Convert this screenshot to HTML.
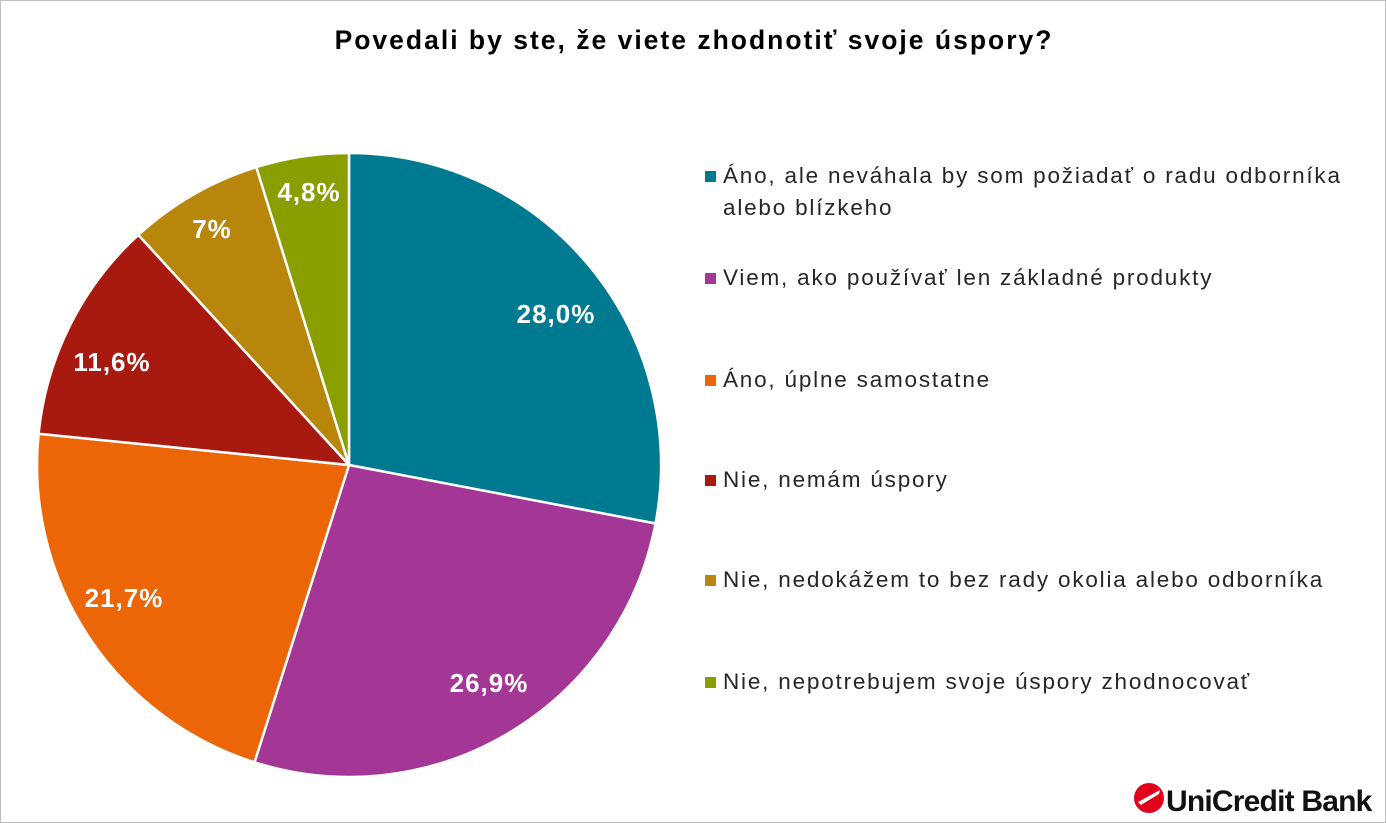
<!DOCTYPE html>
<html><head><meta charset="utf-8"><style>
body{margin:0;background:#fff;}
.w{position:relative;width:1384px;height:821px;border:1px solid #bdbdbd;font-family:"Liberation Sans","DejaVu Sans",sans-serif;overflow:hidden}
.t{position:absolute;top:24px;left:0;width:1386px;text-align:center;font-weight:bold;font-size:26.5px;letter-spacing:2px;color:#000}
.lg{position:absolute;left:704px;font-size:22.5px;letter-spacing:1.8px;color:#262626;line-height:32px;white-space:nowrap}
.lg i{position:absolute;left:0;top:11px;width:11px;height:11px}
.lg span{display:block;padding-left:18px}
</style></head><body><div class="w">
<div class="t">Povedali by ste, že viete zhodnotiť svoje úspory?</div>
<svg width="1386" height="823" style="position:absolute;left:-1px;top:-1px">
<g stroke="#fff" stroke-width="2.5">
<path d="M349,465 L349,153 A312,312 0 0 1 655.5,523.5 Z" fill="#007A91"/>
<path d="M349,465 L655.5,523.5 A312,312 0 0 1 254.5,762.3 Z" fill="#A43795"/>
<path d="M349,465 L254.5,762.3 A312,312 0 0 1 38.6,433.7 Z" fill="#EC6608"/>
<path d="M349,465 L38.6,433.7 A312,312 0 0 1 138.3,234.9 Z" fill="#A8190F"/>
<path d="M349,465 L138.3,234.9 A312,312 0 0 1 256.3,167.1 Z" fill="#B8860B"/>
<path d="M349,465 L256.3,167.1 A312,312 0 0 1 349,153 Z" fill="#8A9E00"/>
</g>
<g fill="#fff" font-family="Liberation Sans, sans-serif" font-weight="bold" font-size="26" letter-spacing="1" text-anchor="middle">
<text x="556" y="323">28,0%</text>
<text x="489" y="692">26,9%</text>
<text x="124" y="607">21,7%</text>
<text x="112" y="371">11,6%</text>
<text x="212" y="238">7%</text>
<text x="309" y="201">4,8%</text>
</g>
<g transform="translate(1134,781)">
<circle cx="15" cy="17" r="15" fill="#e2001a"/>
<path d="M4,21 L26,9 L25,13 L7,24 Z" fill="#fff"/>
<text x="32" y="30" font-family="Liberation Sans, sans-serif" font-size="30" font-weight="bold" fill="#111" letter-spacing="-0.8">UniCredit Bank</text>
</g>
</svg>
<div class="lg" style="top:159px"><i style="background:#007A91"></i><span>Áno, ale neváhala by som požiadať o radu odborníka<br>alebo blízkeho</span></div>
<div class="lg" style="top:261px"><i style="background:#A43795"></i><span>Viem, ako používať len základné produkty</span></div>
<div class="lg" style="top:363px"><i style="background:#EC6608"></i><span>Áno, úplne samostatne</span></div>
<div class="lg" style="top:463px"><i style="background:#A8190F"></i><span>Nie, nemám úspory</span></div>
<div class="lg" style="top:563px"><i style="background:#B8860B"></i><span>Nie, nedokážem to bez rady okolia alebo odborníka</span></div>
<div class="lg" style="top:665px"><i style="background:#8A9E00"></i><span>Nie, nepotrebujem svoje úspory zhodnocovať</span></div>
</div></body></html>
